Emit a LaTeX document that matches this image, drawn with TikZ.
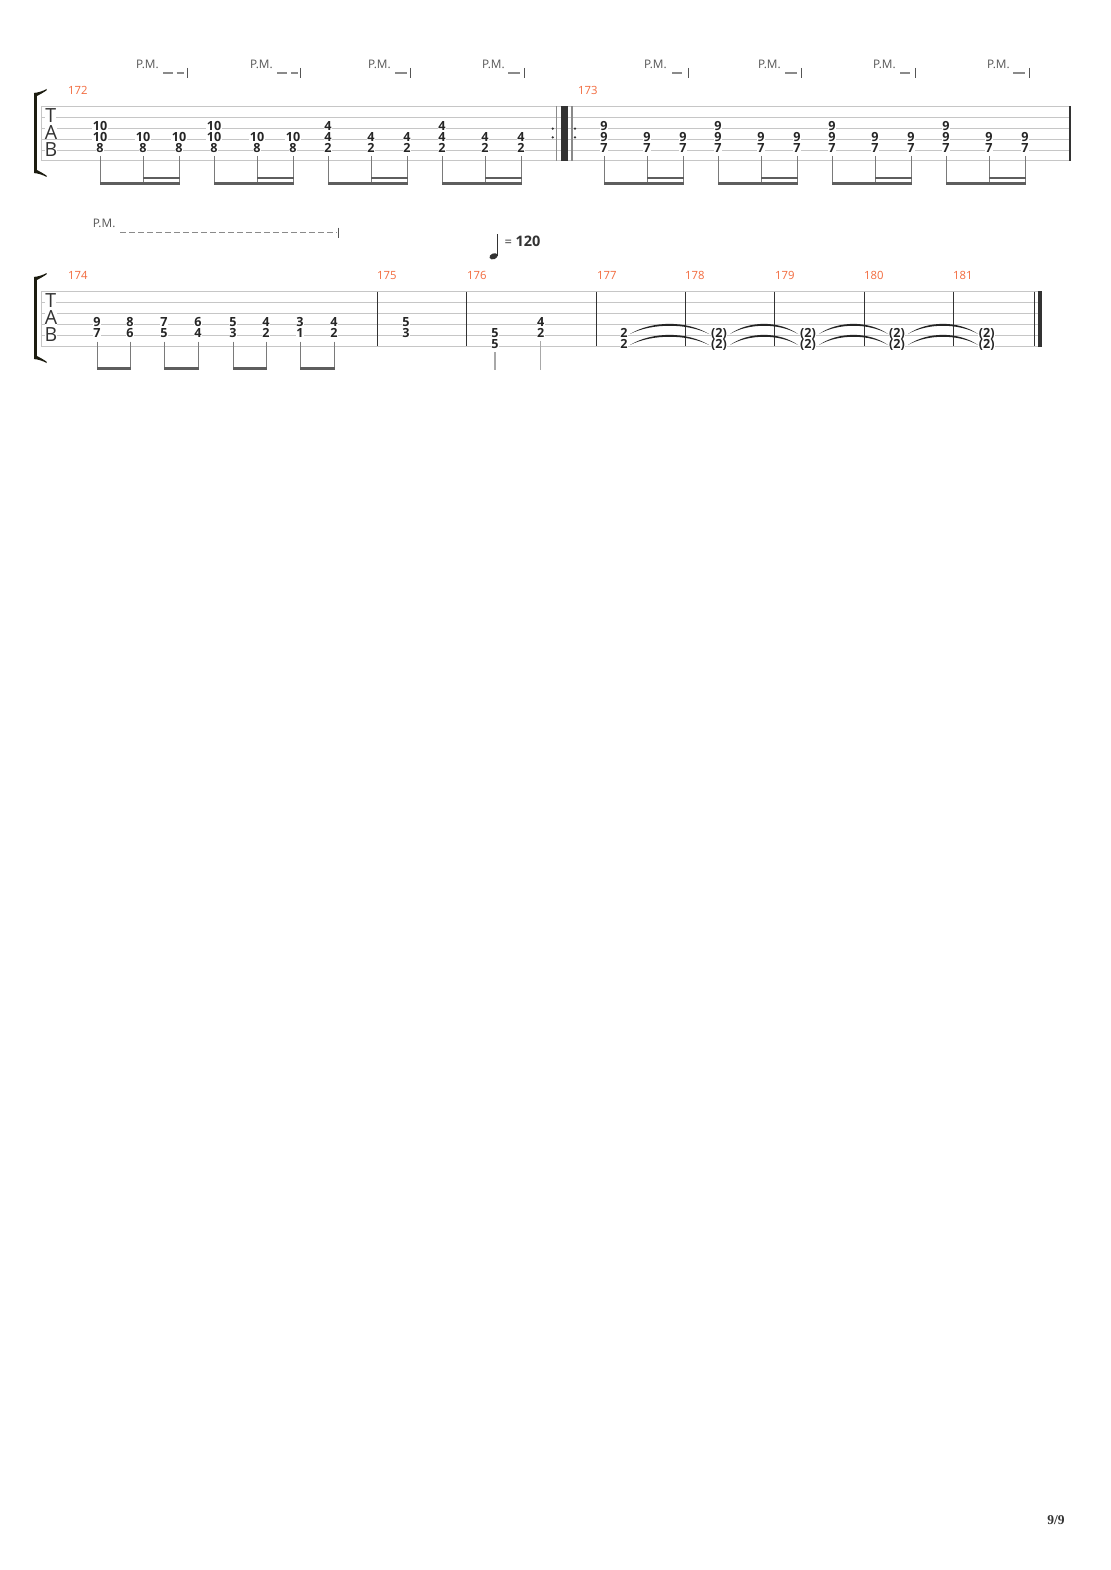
\documentclass[tikz,border=0pt]{standalone}
\usepackage{fontspec}
\setmainfont{Open Sans}
\newfontfamily\pagefont{Liberation Serif}
\definecolor{staffc}{HTML}{C6C6C6}
\definecolor{numc}{HTML}{262626}
\definecolor{mnumc}{HTML}{F26A3D}
\definecolor{pmc}{HTML}{555555}
\definecolor{pmdc}{HTML}{8A8A8A}
\definecolor{stemc}{HTML}{7A7A7A}
\definecolor{lstemc}{HTML}{A8A8A8}
\definecolor{beamc}{HTML}{5E5E5E}
\definecolor{barc}{HTML}{333333}
\definecolor{brc}{HTML}{1C1C10}
\definecolor{tiec}{HTML}{252525}
\tikzset{
  staff/.style={draw=staffc, line width=1pt},
  num/.style={font=\fontsize{12.6}{12.6}\selectfont\bfseries, text=numc, fill=white, inner sep=0.5pt, text height=8.9pt, text depth=0pt},
  mnum/.style={font=\fontsize{11.3}{11.3}\selectfont, text=mnumc, anchor=west, inner sep=0pt, text height=8.2pt, text depth=0pt},
  pmtext/.style={font=\fontsize{11.8}{11.8}\selectfont, text=pmc, anchor=west, inner sep=0pt, text height=8.5pt, text depth=0pt},
  pmdash/.style={draw=pmdc, line width=1.5pt},
  pmtick/.style={draw=pmc, line width=1pt},
  stem/.style={draw=stemc, line width=1pt},
  lstem/.style={draw=lstemc, line width=1.3pt},
  barline/.style={draw=barc, line width=1.2pt},
  tabletter/.style={font=\fontsize{19.5}{19.5}\selectfont, text=barc, fill=white, inner sep=0pt, text height=13.8pt, text depth=0pt},
}
\newcommand\sysbracket[2]{%
  \fill[brc] (33.8,#1) rectangle (36.8,#2);
  \fill[brc] (33.8,#1) .. controls (39,{#1-0.5}) and (43,{#1-2}) .. (46.5,{#1-4}) -- (46.5,{#1-2.6}) .. controls (43,{#1-0.2}) and (39,{#1+2}) .. (36.8,{#1+3}) -- cycle;
  \fill[brc] (33.8,#2) .. controls (39,{#2+0.5}) and (43,{#2+2}) .. (46.5,{#2+4}) -- (46.5,{#2+2.6}) .. controls (43,{#2+0.2}) and (39,{#2-2}) .. (36.8,{#2-3}) -- cycle;
}
\newcommand\tabtie[3]{%
  \pgfmathsetmacro\tieq{0.28*(#2-#1)}%
  \fill[tiec] (#1,#3) .. controls ({#1+\tieq},{#3-13.5}) and ({#2-\tieq},{#3-13.5}) .. (#2,#3)
     .. controls ({#2-\tieq},{#3-11}) and ({#1+\tieq},{#3-11}) .. (#1,#3) -- cycle;
}
\begin{document}
\begin{tikzpicture}[x=1pt,y=-1pt]
\fill[white] (0,0) rectangle (1110,1570);
\useasboundingbox (0,0) rectangle (1110,1570);

% ================= SYSTEM 1 =================
\foreach \i in {0,...,5} \draw[staff] (41,{106.5+10.9*\i}) -- (1070,{106.5+10.9*\i});
\draw[staff] (41,106.5) -- (41,161);
\sysbracket{93}{173}
\node[tabletter] (t1) at (50.8,116) {T};
\node[tabletter] (a1) at (51,132.5) {A};
\node[tabletter] (b1) at (51,149.5) {B};

\node[mnum] (m172) at (68,90) {172};
\node[mnum] (m173) at (578,90) {173};

% repeat sign
\draw[draw=pmdc, line width=1.5pt] (556.7,106.5) -- (556.7,161);
\fill[barc] (561,106.5) rectangle (568,161);
\draw[draw=pmdc, line width=1.5pt] (571.9,106.5) -- (571.9,161);
\foreach \x in {552.7,575} {\fill[barc] (\x,128.6) circle (1.3); \fill[barc] (\x,137.4) circle (1.3);}
% end bar
\draw[barline, line width=1.5pt] (1070,106.5) -- (1070,161);

\foreach \g/\a/\b/\c [count=\k] in {100/10/10/8,214/10/10/8,328/4/4/2,442/4/4/2,604/9/9/7,718/9/9/7,832/9/9/7,946/9/9/7} {
  \node[num] (pa\k) at (\g,126.3) {\a};
  \node[num] (pb\k) at (\g,137.2) {\b};
  \node[num] (pc\k) at (\g,148.1) {\c};
  \node[num] (pd\k) at (\g+43,137.2) {\b};
  \node[num] (pe\k) at (\g+43,148.1) {\c};
  \node[num] (pf\k) at (\g+79,137.2) {\b};
  \node[num] (ph\k) at (\g+79,148.1) {\c};
  \draw[stem] (\g,156) -- (\g,185);
  \draw[stem] (\g+43,156) -- (\g+43,185);
  \draw[stem] (\g+79,156) -- (\g+79,185);
  \fill[beamc] (\g-0.5,182) rectangle (\g+79.5,185);
  \fill[beamc] (\g+42.5,176.6) rectangle (\g+79.5,179.4);
}

% P.M. markings system 1
\foreach \tx/\tk [count=\k] in {136/187,250/300.7,368/410,482/524,644/688,758/801.7,873/915,987/1029} {
  \node[pmtext] (pm\k) at (\tx,64) {P.M.};
  \draw[pmtick] (\tk,68) -- (\tk,78);
}
\foreach \da/\db in {163/172.5,176.5/184,277/286.5,291/298,395/406.5,508.3/520,672/682,785/796.5,900/910,1013/1025}
  \draw[pmdash] (\da,73.2) -- (\db,73.2);

% ================= SYSTEM 2 =================
\foreach \i in {0,...,5} \draw[staff] (41,{291.7+10.9*\i}) -- (1041.7,{291.7+10.9*\i});
\draw[staff] (41,291.7) -- (41,346.2);
\sysbracket{277}{359}
\node[tabletter] (t2) at (50.8,300.5) {T};
\node[tabletter] (a2) at (51,318) {A};
\node[tabletter] (b2) at (51,335) {B};

\foreach \x/\n in {68/174,377/175,467/176,597/177,685/178,775/179,864/180,953/181}
  \node[mnum] (m\n) at (\x,275) {\n};

\foreach \x in {377.3,466.3,596.3,685.7,774.7,864.3,953.3}
  \draw[barline] (\x,291.7) -- (\x,346.2);
\draw[barline, line width=1pt] (1034.3,291.7) -- (1034.3,346.2);
\fill[barc] (1038,291.2) rectangle (1041.9,346.7);

% P.M. system 2
\node[pmtext] (pm9) at (92.7,223.5) {P.M.};
\draw[pmdash, dash pattern=on 6pt off 3pt] (120,232.7) -- (336.7,232.7);
\draw[pmtick] (338,227.7) -- (338,238.3);

% tempo
\fill[barc, rotate around={22:(493.6,256.3)}] (493.6,256.3) ellipse (4.3 and 2.9);
\draw[barc, line width=1.2pt] (497.6,255.5) -- (497.6,234);
\node[font=\fontsize{13}{13}\selectfont, text=barc, anchor=west, inner sep=0pt] (tempo) at (504.5,241.5) {= \fontsize{14.5}{14.5}\selectfont\bfseries 120};

% measure 174
\foreach \x/\p/\q [count=\k] in {97/9/7,130/8/6,164/7/5,198/6/4,233/5/3,266/4/2,300/3/1,334/4/2} {
  \node[num] (qa\k) at (\x,322.4) {\p};
  \node[num] (qb\k) at (\x,333.3) {\q};
  \draw[stem] (\x,341.5) -- (\x,370);
}
\foreach \x/\y in {97/130,164/198,233/266,300/334}
  \fill[beamc] (\x-0.5,367) rectangle (\y+0.5,370);

% measure 175
\node[num] (r1) at (406,322.4) {5};
\node[num] (r2) at (406,333.3) {3};
% measure 176
\node[num] (s1) at (495,333.3) {5};
\node[num] (s2) at (495,344.2) {5};
\draw[lstem] (495,352) -- (495,370);
\node[num] (s3) at (540.7,322.4) {4};
\node[num] (s4) at (540.7,333.3) {2};
\draw[lstem] (540.7,341) -- (540.7,370);
% measure 177
\node[num] (w1) at (624,333.3) {2};
\node[num] (w2) at (624,344.2) {2};
% measures 178-181
\foreach \x [count=\k] in {719,808,897,986.7} {
  \node[num] (x\k) at (\x,333.3) {(2)};
  \node[num] (y\k) at (\x,344.2) {(2)};
}
% ties
\foreach \ta/\tb in {630/709,730/798,819/888,908/978} {
  \tabtie{\ta}{\tb}{334}
  \tabtie{\ta}{\tb}{345}
}

% page number
\node[font=\pagefont\fontsize{13.5}{13.5}\selectfont\bfseries, text=barc] (pg) at (1056,1520) {9/9};
\end{tikzpicture}
\end{document}
